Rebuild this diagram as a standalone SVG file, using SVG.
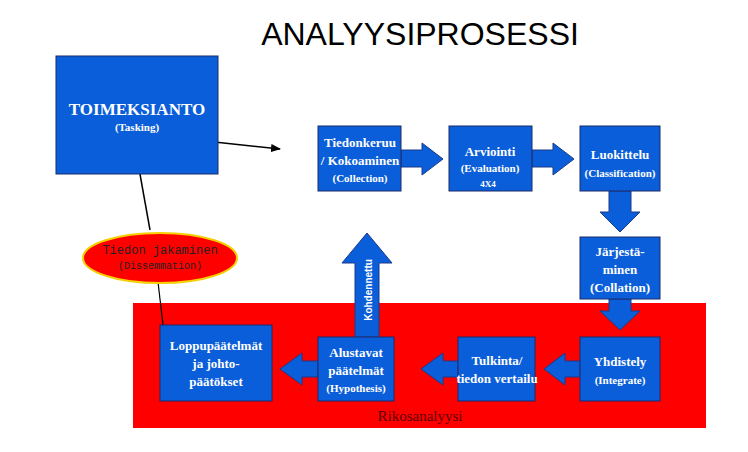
<svg xmlns="http://www.w3.org/2000/svg" width="748" height="452" viewBox="0 0 748 452">
<defs><marker id="ah" markerWidth="10" markerHeight="8" refX="9" refY="4" orient="auto" markerUnits="userSpaceOnUse"><path d="M0,0 L10,4 L0,8 Z" fill="#000"/></marker></defs>
<style>
.b{fill:#0a5ed9;stroke:#1a2a6a;stroke-width:1}
.ba{fill:#0a5ed9;stroke:#1a3a8a;stroke-width:1}
.t{font-family:"Liberation Serif",serif;font-weight:bold;fill:#fff;text-anchor:middle;font-size:13px}
.s{font-size:11px}
</style>
<rect width="748" height="452" fill="#fff"/>
<text x="420" y="45" font-family="Liberation Sans,sans-serif" font-size="32" text-anchor="middle" fill="#000">ANALYYSIPROSESSI</text>
<rect x="133" y="303" width="573" height="125" fill="#ff0000"/>
<text x="420" y="421" font-family="Liberation Serif,serif" font-size="15" fill="#5a0000" text-anchor="middle">Rikosanalyysi</text>
<g id="connectors">
<line x1="168" y1="137" x2="280" y2="149" stroke="#000" stroke-width="1.5" marker-end="url(#ah)"/>
<line x1="150" y1="230" x2="138" y2="163" stroke="#000" stroke-width="1.5" marker-end="url(#ah)"/>
<line x1="163" y1="325" x2="158" y2="282" stroke="#000" stroke-width="1.2"/>
<path class="ba" d="M401,150 H422 V143 L443,159 L422,175 V167 H401 Z"/>
<path class="ba" d="M532,150 H553 V143 L574,159 L553,175 V167 H532 Z"/>
<path class="ba" d="M609,191 V212 H600 L620,232 L640,212 H631 V191 Z"/>
<path class="ba" d="M609,299 V311 H600 L620,330 L640,311 H631 V299 Z"/>
<path class="ba" d="M580,361 H565 V353 L544,369 L565,385 V377 H580 Z"/>
<path class="ba" d="M458,361 H443 V353 L421,369 L443,385 V377 H458 Z"/>
<path class="ba" d="M318,361 H302 V353 L280,369 L302,385 V377 H318 Z"/>
<path class="ba" d="M355,337 V263 H342 L367,233 L392,263 H379 V337 Z"/>
<text transform="translate(372,290) rotate(-90)" class="t" style="font-family:'Liberation Sans',sans-serif;font-size:10px">Kohdennettu</text>
</g>
<g id="toimeksianto"><rect class="b" x="56" y="56" width="162" height="118"/><text class="t" x="137" y="115" style="font-size:17px">TOIMEKSIANTO</text><text class="t s" x="137" y="131">(Tasking)</text></g>
<g id="tiedonkeruu"><rect class="b" x="318" y="126" width="83" height="65"/><text class="t" x="360" y="147">Tiedonkeruu</text><text class="t" x="360" y="165">/ Kokoaminen</text><text class="t s" x="360" y="182">(Collection)</text></g>
<g id="arviointi"><rect class="b" x="449" y="126" width="83" height="65"/><text class="t" x="490" y="156">Arviointi</text><text class="t s" x="490" y="172">(Evaluation)</text><text class="t" x="488" y="187" style="font-size:9px">4X4</text></g>
<g id="luokittelu"><rect class="b" x="580" y="126" width="80" height="65"/><text class="t" x="620" y="159">Luokittelu</text><text class="t s" x="620" y="177">(Classification)</text></g>
<g id="jarjesta"><rect class="b" x="580" y="237" width="80" height="62"/><text class="t" x="620" y="256">Järjestä-</text><text class="t" x="620" y="274">minen</text><text class="t" x="620" y="292">(Collation)</text></g>
<g id="yhdistely"><rect class="b" x="580" y="337" width="80" height="64"/><text class="t" x="620" y="366">Yhdistely</text><text class="t s" x="620" y="384">(Integrate)</text></g>
<g id="tulkinta"><rect class="b" x="458" y="337" width="77" height="64"/><text class="t" x="497" y="365">Tulkinta/</text><text class="t" x="497" y="383">tiedon vertailu</text></g>
<g id="alustavat"><rect class="b" x="318" y="337" width="76" height="64"/><text class="t" x="356" y="357">Alustavat</text><text class="t" x="356" y="375">päätelmät</text><text class="t s" x="356" y="392">(Hypothesis)</text></g>
<g id="loppu"><rect class="b" x="160" y="325" width="112" height="76"/><text class="t" x="216" y="350">Loppupäätelmät</text><text class="t" x="216" y="368">ja johto-</text><text class="t" x="216" y="386">päätökset</text></g>
<g id="jakaminen"><ellipse cx="160" cy="258" rx="77" ry="25" fill="#ff0000" stroke="#f5d000" stroke-width="2"/><text x="160" y="254" font-family="Liberation Mono,monospace" font-size="12" text-anchor="middle" fill="#222">Tiedon jakaminen</text><text x="160" y="269" font-family="Liberation Mono,monospace" font-size="10" text-anchor="middle" fill="#222">(Dissemmation)</text></g>
</svg>
